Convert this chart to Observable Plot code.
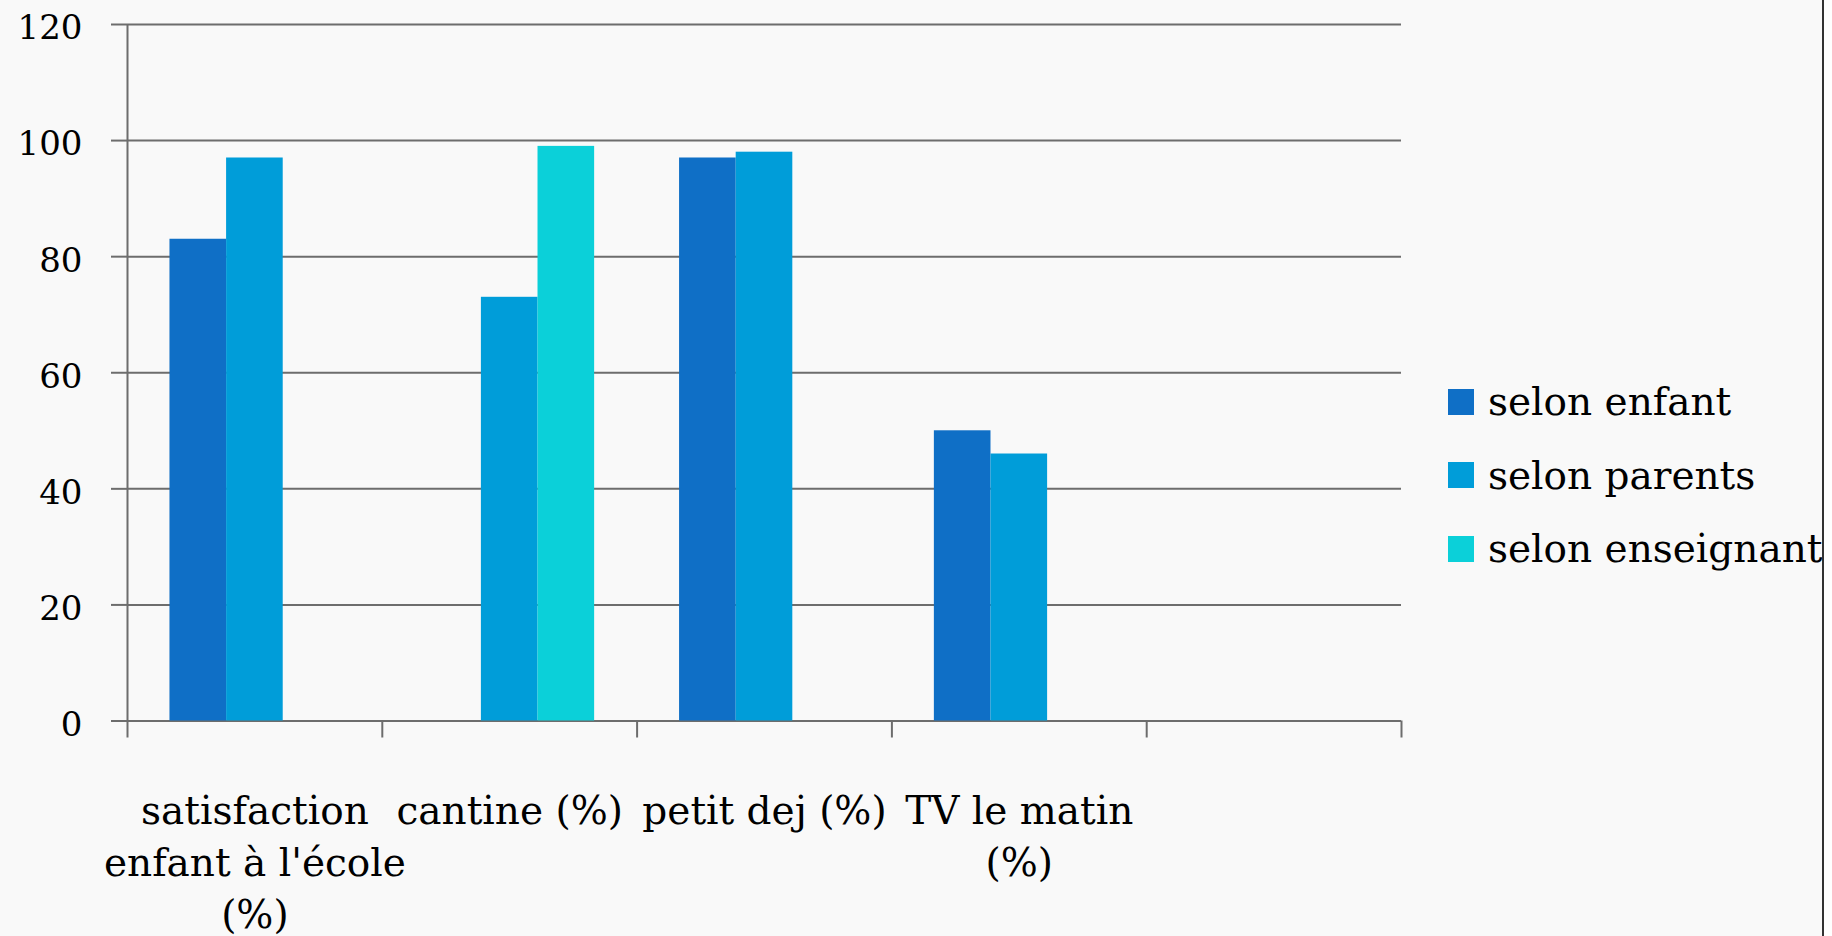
<!DOCTYPE html>
<html><head><meta charset="utf-8">
<script src="https://cdn.jsdelivr.net/npm/d3@7"></script>
<script src="https://cdn.jsdelivr.net/npm/@observablehq/plot@0.6"></script>
<style>
html,body{margin:0;padding:0;background:#f9f9f9;}
#wrap{position:relative;width:1832px;height:936px;overflow:hidden;background:#f9f9f9;font-family:"DejaVu Serif",serif;}
#chart{position:absolute;left:0;top:0;}
#legend{position:absolute;left:1448px;top:365px;width:374px;overflow:hidden;}
.item{display:flex;align-items:center;height:73.5px;white-space:nowrap;font-size:39px;color:#000;}
.sw{width:26px;height:26px;margin-right:14px;flex:none;}
#edge{position:absolute;left:1822px;top:0;width:2px;height:936px;background:#333;}
#beyond{position:absolute;left:1824px;top:0;width:8px;height:936px;background:#fff;}
</style></head>
<body><div id="wrap"><div id="chart"></div><div id="legend"></div><div id="edge"></div><div id="beyond"></div></div>
<script>
// ---- data ----
const categories = ["satisfaction enfant à l'école (%)", "cantine (%)", "petit dej (%)", "TV le matin (%)", ""];
const categoryLabels = ["satisfaction\nenfant à l'école\n(%)", "cantine (%)", "petit dej (%)", "TV le matin\n(%)", ""];
const series = ["selon enfant", "selon parents", "selon enseignant"];
const selonEnfant = [83, null, 97, 50, null];
const selonParents = [97, 73, 98, 46, null];
const selonEnseignant = [null, 99, null, null, null];
const colors = ["#0F6FC6", "#009DD9", "#0BD0D9"];
const yTicks = [0, 20, 40, 60, 80, 100, 120];

// ---- build table ----
const seriesValues = [selonEnfant, selonParents, selonEnseignant];
const rows = [];
series.forEach((s, si) => {
  seriesValues[si].forEach((v, ci) => {
    if (v != null) rows.push({category: categories[ci], ci, series: s, si, value: v});
  });
});
const nCat = categories.length;
const slots = series.length + 1.5; // Excel gap width 150%
const catRows = categories.map((c, i) => ({label: categoryLabels[i], center: i + 0.5}));
const boundaries = d3.range(0, nCat + 1);

const grid = "#6d6d6d";
const chart = Plot.plot({
  width: 1832,
  height: 936,
  marginLeft: 127,
  marginRight: 431,
  marginTop: 24,
  marginBottom: 215.5,
  style: {background: "transparent", fontFamily: "'DejaVu Serif', serif"},
  x: {type: "linear", domain: [0, nCat], axis: null, label: null},
  y: {domain: [0, 120], axis: null, label: null},
  color: {domain: series, range: colors},
  marks: [
    Plot.ruleY(yTicks, {stroke: grid, strokeWidth: 2}),
    Plot.rectY(rows, {
      x1: d => d.ci + (0.75 + d.si) / slots,
      x2: d => d.ci + (1.75 + d.si) / slots,
      y: "value",
      fill: "series"
    }),
    Plot.ruleX([0], {stroke: grid, strokeWidth: 2}),
    Plot.axisY({ticks: yTicks, tickSize: 16, tickFormat: () => "", label: null, stroke: grid, strokeWidth: 2}),
    Plot.axisY({ticks: yTicks, tickSize: 0, tickPadding: 45, label: null, fontSize: 34, fill: "#000", dy: 4}),
    Plot.axisX({ticks: boundaries, tickSize: 17, tickFormat: () => "", label: null, stroke: grid, strokeWidth: 2}),
    Plot.text(catRows, {
      x: "center", text: "label", frameAnchor: "bottom", dy: 66,
      lineAnchor: "top", lineHeight: 1.33, fontSize: 39, fill: "#000"
    })
  ]
});
document.getElementById("chart").appendChild(chart);

// ---- legend ----
const legend = document.getElementById("legend");
series.forEach((s, i) => {
  const item = document.createElement("div");
  item.className = "item";
  const sw = document.createElement("span");
  sw.className = "sw";
  sw.style.background = colors[i];
  const t = document.createElement("span");
  t.textContent = s;
  item.appendChild(sw);
  item.appendChild(t);
  legend.appendChild(item);
});
</script>
</body></html>
